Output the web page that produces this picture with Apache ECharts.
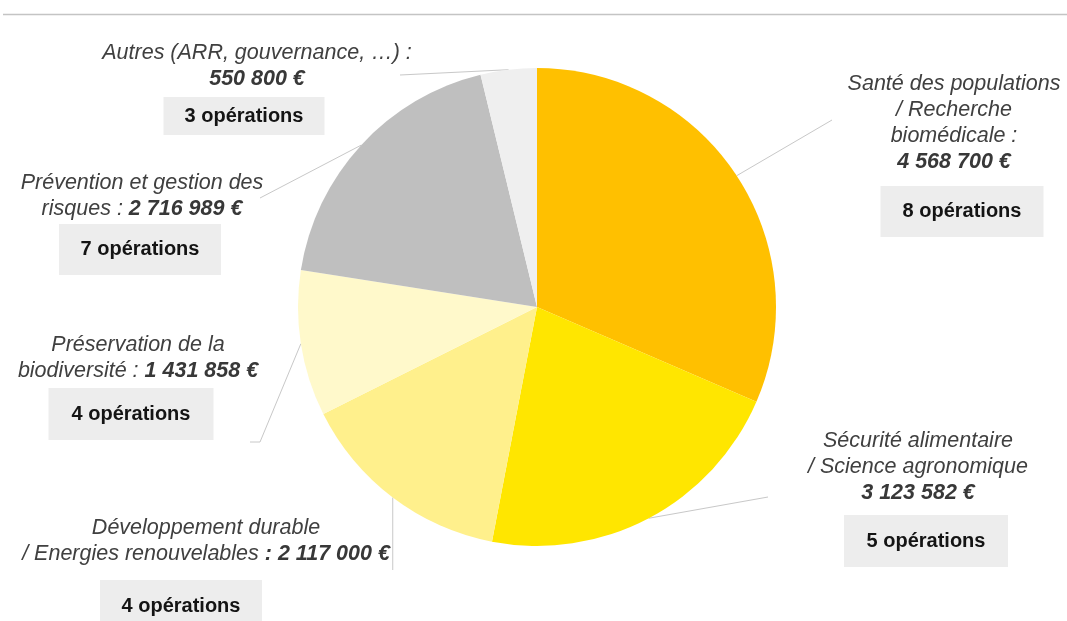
<!DOCTYPE html>
<html>
<head>
<meta charset="utf-8">
<script src="https://cdn.jsdelivr.net/npm/echarts@6/dist/echarts.min.js"></script>
<style>
html,body{margin:0;padding:0;background:#ffffff;}
#chart{width:1067px;height:621px;}
</style>
</head>
<body>
<div id="chart"></div>
<script>
// ---- Data ----
const categories = [
  'Santé des populations / Recherche biomédicale',
  'Sécurité alimentaire / Science agronomique',
  'Développement durable / Energies renouvelables',
  'Préservation de la biodiversité',
  'Prévention et gestion des risques',
  'Autres (ARR, gouvernance, …)'
];
const amounts = [4568700, 3123582, 2117000, 1431858, 2716989, 550800];
const operations = [8, 5, 4, 4, 7, 3];
const labelNameLines = [
  ['Santé des populations', '/ Recherche', 'biomédicale :'],
  ['Sécurité alimentaire', '/ Science agronomique'],
  ['Développement durable', '/ Energies renouvelables'],
  ['Préservation de la', 'biodiversité : '],
  ['Prévention et gestion des', 'risques : '],
  ['Autres (ARR, gouvernance, …) :']
];
const amountPrefix = ['', '', ' : ', '', '', ''];
const amountInline = [false, false, true, true, true, false];
const colors = ['#FFC000', '#FFE600', '#FFF08C', '#FFF9CB', '#BFBFBF', '#EFEFEF'];

// ---- Layout (label placement only) ----
const layout = [
  {x: 954, y: 71,  gap: 11, boxW: 163, boxH: 51, shift: 8,   line: [[832, 120]]},
  {x: 918, y: 428, gap: 9,  boxW: 164, boxH: 52, shift: 8,   line: [[768, 497]]},
  {x: 206, y: 515, gap: 13, boxW: 162, boxH: 52, shift: -25, line: [[null, 570]]},
  {x: 138, y: 332, gap: 4,  boxW: 165, boxH: 52, shift: -7,  line: [[260, 442], [250, 442]]},
  {x: 142, y: 170, gap: 2,  boxW: 162, boxH: 51, shift: -2,  line: [[260, 198]]},
  {x: 257, y: 40,  gap: 5,  boxW: 161, boxH: 38, shift: -13, line: [[400, 75]]}
];

const FONT = "'Liberation Sans', Arial, sans-serif";

function fmt(v) {
  return String(v).replace(/\B(?=(\d{3})+(?!\d))/g, ' ') + ' €';
}

function labelText(i) {
  const L = layout[i];
  const lines = labelNameLines[i].map(s => '{n|' + s + '}');
  const amt = '{a|' + amountPrefix[i] + fmt(amounts[i]) + '}';
  if (amountInline[i]) lines[lines.length - 1] += amt; else lines.push(amt);
  lines.push('{g| }');
  const box = '{b|' + operations[i] + ' opérations}';
  const sp = '{s| }';
  lines.push(L.shift >= 0 ? sp + box : box + sp);
  return lines.join('\n');
}

function richFor(i) {
  const L = layout[i];
  return {
    n: {fontFamily: FONT, fontStyle: 'italic', fontSize: 21.5, color: '#404040', lineHeight: 26, align: 'center'},
    a: {fontFamily: FONT, fontStyle: 'italic', fontWeight: 'bold', fontSize: 21.5, color: '#383838', lineHeight: 26, align: 'center'},
    g: {fontSize: 1, lineHeight: L.gap, align: 'center'},
    s: {fontSize: 1, width: Math.max(1, Math.abs(L.shift) * 2), align: 'center'},
    b: {fontFamily: FONT, fontWeight: 'bold', fontSize: 20, color: '#141414', backgroundColor: '#EDEDED',
        width: L.boxW, height: L.boxH, lineHeight: L.boxH, align: 'center'}
  };
}

const seriesData = categories.map((name, i) => ({
  name: name,
  value: amounts[i],
  itemStyle: {color: colors[i]},
  label: {formatter: labelText(i), rich: richFor(i)}
}));

const chart = echarts.init(document.getElementById('chart'), null, {renderer: 'canvas'});
chart.setOption({
  animation: false,
  backgroundColor: '#ffffff',
  graphic: [{
    type: 'line',
    shape: {x1: 3, y1: 14.5, x2: 1067, y2: 14.5},
    style: {stroke: '#c4c4c4', lineWidth: 1.5},
    silent: true
  }],
  series: [{
    type: 'pie',
    center: [537, 307],
    radius: 239,
    startAngle: 90,
    clockwise: true,
    avoidLabelOverlap: false,
    silent: true,
    emphasis: {disabled: true},
    itemStyle: {borderWidth: 0},
    label: {show: true, position: 'outside', width: 440, overflow: 'none'},
    labelLine: {show: true, length: 20, length2: 20, smooth: false,
                lineStyle: {color: '#c8c8c8', width: 1}},
    labelLayout: function (p) {
      const L = layout[p.dataIndex];
      const start = (p.labelLinePoints && p.labelLinePoints[0]) || [0, 0];
      const pts = [start];
      L.line.forEach(pt => pts.push([pt[0] == null ? start[0] : pt[0], pt[1]]));
      return {x: L.x, y: L.y, align: 'center', verticalAlign: 'top', labelLinePoints: pts};
    },
    data: seriesData
  }]
});
</script>
</body>
</html>
